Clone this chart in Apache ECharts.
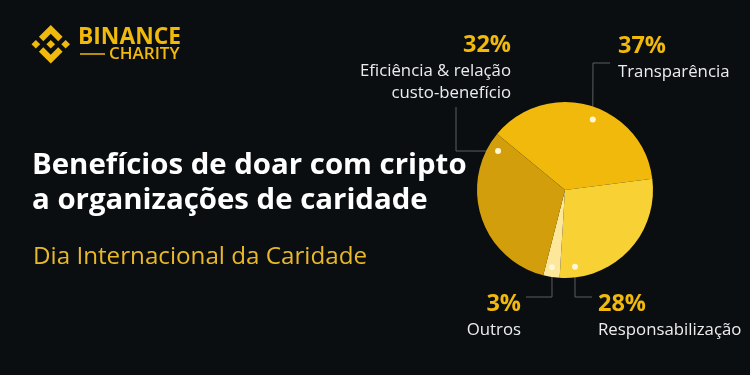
<!DOCTYPE html>
<html><head><meta charset="utf-8">
<script src="https://cdn.jsdelivr.net/npm/echarts@6/dist/echarts.min.js"></script>
<style>html,body{margin:0;padding:0;background:#0b0e11;}#c{width:750px;height:375px;}</style>
</head><body><div id="c"></div>
<script>
// ---- data ----
const categories = ['Transparência', 'Responsabilização', 'Outros', 'Eficiência & relação\ncusto-benefício'];
const values = [37, 28, 3, 32];
const sliceColors = ['#F0B90B', '#F8D134', '#FCE79A', '#D39E0B'];
const titleLines = ['Benefícios de doar com cripto', 'a organizações de caridade'];
const subtitle = 'Dia Internacional da Caridade';

// ---- layout ----
const C = [565, 190], R = 88;
// dot anchor on slice: [angle deg (math), fraction of radius]
const dotAnchors = [[68.5, 0.86], [-82.6, 0.88], [-99.6, 0.89], [149.8, 0.88]];
const elbows = [[[593, 63], [610, 63]], [[575, 297], [592, 297]], [[552, 297], [526, 297]], [[456, 151], [456, 107]]];
const labelPos = [[618, 32, 'left'], [598, 290, 'left'], [521, 290, 'right'], [511, 31, 'right']];

function dotXY(i) {
  const a = dotAnchors[i][0] * Math.PI / 180, r = R * dotAnchors[i][1];
  return [C[0] + r * Math.cos(a), C[1] - r * Math.sin(a)];
}

const chart = echarts.init(document.getElementById('c'));
const Y = '#F0B90B';
const logoPolys = [
  [[38.73,53.2],[63.3,28.63],[87.89,53.22],[102.19,38.92],[63.3,0],[24.43,38.9]],
  [[0,63.31],[14.3,49.01],[28.6,63.31],[14.3,77.61]],
  [[63.31,48.99],[77.61,63.3],[63.31,77.61],[49.01,63.3]],
  [[98.01,63.31],[112.31,49.01],[126.61,63.31],[112.31,77.61]],
  [[87.89,73.41],[63.3,97.98],[38.73,73.4],[24.43,87.7],[63.3,126.61],[102.19,87.71]]
];
const ls = 38.5 / 126.61, lx = 31.5, ly = 25;
const graphics = logoPolys.map(p => ({
  type: 'polygon', shape: { points: p.map(q => [lx + q[0] * ls, ly + q[1] * ls]) }, style: { fill: Y }
}));
graphics.push(
  { type: 'text', style: { text: 'BINANCE', x: 78, y: 38, fill: Y, font: 'bold 22.8px "Open Sans"', textVerticalAlign: 'middle' } },
  { type: 'line', shape: { x1: 80, y1: 54, x2: 105, y2: 54 }, style: { stroke: Y, lineWidth: 1.5 } },
  { type: 'text', style: { text: 'CHARITY', x: 109, y: 54.5, fill: Y, font: '600 17px "Open Sans"', textVerticalAlign: 'middle' } },
  { type: 'text', style: { text: titleLines[0], x: 32, y: 166, fill: '#ffffff', font: 'bold 29.4px "Open Sans"', textVerticalAlign: 'middle' } },
  { type: 'text', style: { text: titleLines[1], x: 32, y: 201, fill: '#ffffff', font: 'bold 29.4px "Open Sans"', textVerticalAlign: 'middle' } },
  { type: 'text', style: { text: subtitle, x: 33, y: 257, fill: '#E9B82A', font: '24.2px "Open Sans"', textVerticalAlign: 'middle' } }
);
values.forEach((v, i) => {
  const d = dotXY(i);
  graphics.push({ type: 'circle', z: 100, shape: { cx: d[0], cy: d[1], r: 3 }, style: { fill: '#FFF6D5' } });
});

chart.setOption({
  backgroundColor: '#0b0e11',
  animation: false,
  graphic: graphics,
  series: [{
    type: 'pie',
    center: C,
    radius: R,
    startAngle: 140.5,
    clockwise: true,
    avoidLabelOverlap: false,
    data: categories.map((n, i) => ({ name: n, value: values[i], itemStyle: { color: sliceColors[i] } })),
    label: {
      show: true, position: 'outside',
      formatter: p => '{p|' + p.value + '%}\n{n|' + p.name.split('\n').join('}\n{n|') + '}',
      rich: {
        p: { fontFamily: 'Open Sans', fontWeight: 'bold', fontSize: 23.5, color: Y, lineHeight: 29 },
        n: { fontFamily: 'Open Sans', fontSize: 16.8, color: '#EDEDED', lineHeight: 22 }
      }
    },
    labelLine: { show: true, lineStyle: { color: '#5c5c5c', width: 1 } },
    labelLayout: function (params) {
      const i = params.dataIndex;
      const lp = labelPos[i];
      return {
        x: lp[0], y: lp[1], align: lp[2], verticalAlign: 'top',
        labelLinePoints: [dotXY(i), elbows[i][0], elbows[i][1]]
      };
    }
  }]
});
</script></body></html>
